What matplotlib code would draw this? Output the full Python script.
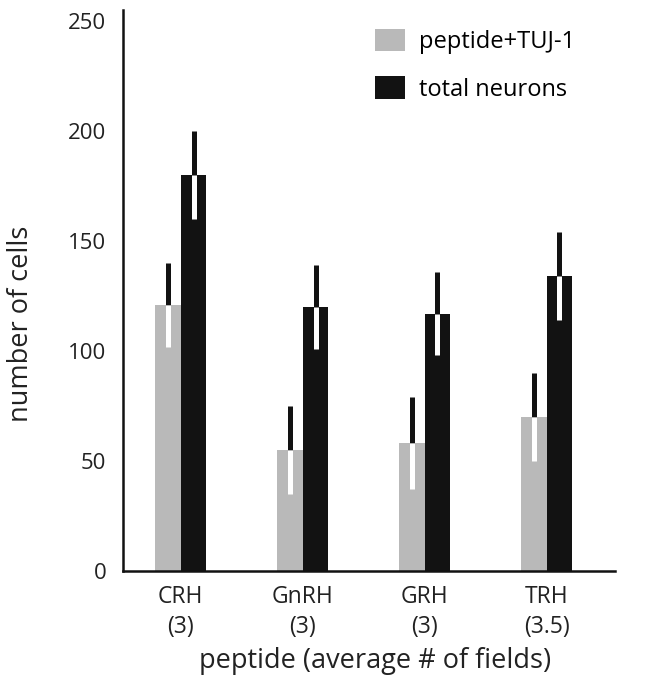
import numpy as np
import matplotlib.pyplot as plt

plt.rcParams['font.family'] = ['Open Sans', 'DejaVu Sans']

# data
peptides = ['CRH', 'GnRH', 'GRH', 'TRH']
fields = ['(3)', '(3)', '(3)', '(3.5)']
tuj_pos = [121, 55, 58, 70]
tuj_err = [19, 20, 21, 20]
total = [180, 120, 117, 134]
total_err = [20, 19, 19, 20]

gray = '#b9b9b9'
black = '#121212'
txt = '#222222'

fig = plt.figure(figsize=(6.5, 6.82), dpi=100)
ax = fig.add_axes([0.189, 0.163, 0.757, 0.822])

x = np.arange(len(peptides))
w = 0.21
ax.bar(x - w / 2, tuj_pos, w, color=gray, label='peptide+TUJ-1')
ax.bar(x + w / 2, total, w, color=black, label='total neurons')

# error bars: black above the bar, white inside it
for xs, vals, errs in [(x - w / 2, tuj_pos, tuj_err), (x + w / 2, total, total_err)]:
    vals = np.array(vals)
    errs = np.array(errs)
    ax.vlines(xs, vals, vals + errs, color=black, lw=3.6)
    ax.vlines(xs, vals - errs, vals, color='white', lw=3.6)

ax.set_xlim(-0.475, 3.56)
ax.set_ylim(0, 255)
ax.set_yticks([0, 50, 100, 150, 200, 250])
ax.set_xticks(x)
ax.set_xticklabels([p + '\n' + f for p, f in zip(peptides, fields)],
                   fontsize=16.5, linespacing=1.35)
ax.tick_params(axis='both', length=0, colors=txt)
ax.tick_params(axis='y', labelsize=16, pad=12)
ax.tick_params(axis='x', pad=10)
for s in ['top', 'right']:
    ax.spines[s].set_visible(False)
for s in ['left', 'bottom']:
    ax.spines[s].set_linewidth(1.8)
    ax.spines[s].set_color('#111111')

ax.set_ylabel('number of cells', fontsize=19.5, color=txt)
ax.yaxis.set_label_coords(-0.178, 0.44)
ax.set_xlabel('peptide (average # of fields)', fontsize=19.5, color=txt)
ax.xaxis.set_label_coords(0.513, -0.135)

leg = ax.legend(loc='upper left', bbox_to_anchor=(0.47, 1.005), frameon=False,
                fontsize=17, handlelength=1.25, handleheight=1.1,
                labelspacing=0.95, handletextpad=0.6)

fig.savefig('out.png', dpi=100)
